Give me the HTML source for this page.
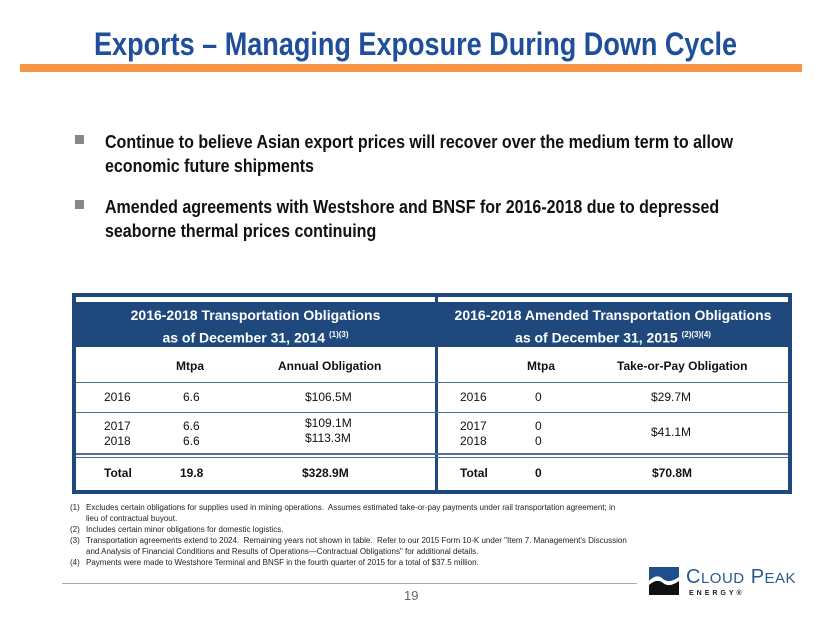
<!DOCTYPE html>
<html><head><meta charset="utf-8"><style>
body{margin:0;width:830px;height:623px;background:#fff;position:relative;overflow:hidden;font-family:"Liberation Sans",sans-serif}
.a{position:absolute;white-space:nowrap}
.sx{transform-origin:0 0}
.t{position:absolute;font-size:12px;color:#111;white-space:nowrap}
.hd{position:absolute;color:#fff;font-weight:bold;font-size:14px;text-align:center;line-height:19px;white-space:nowrap}
.fn{position:absolute;font-size:8px;color:#222;white-space:nowrap;left:70px}
.fn span{position:absolute;left:16px}
</style></head><body>
<div class="a sx" style="left:94px;top:26px;font-size:32px;font-weight:bold;color:#1f4e9a;transform:scaleX(0.845)">Exports – Managing Exposure During Down Cycle</div>
<div class="a" style="left:20px;top:64px;width:782px;height:8px;background:#f79646"></div>

<div class="a" style="left:75px;top:135px;width:9px;height:9px;background:#8c8580"></div>
<div class="a sx" style="left:105px;top:130px;font-size:18.5px;font-weight:bold;color:#111;line-height:24px;transform:scaleX(0.865)">Continue to believe Asian export prices will recover over the medium term to allow<br>economic future shipments</div>
<div class="a" style="left:75px;top:200px;width:9px;height:9px;background:#8c8580"></div>
<div class="a sx" style="left:105px;top:195px;font-size:18.5px;font-weight:bold;color:#111;line-height:24px;transform:scaleX(0.865)">Amended agreements with Westshore and BNSF for 2016-2018 due to depressed<br>seaborne thermal prices continuing</div>

<div>
<div class="a" style="left:72px;top:293px;width:712px;height:193px;border:4px solid #1f497d;background:#fff"></div>
<div class="a" style="left:76px;top:302px;width:712px;height:45px;background:#1f497d"></div>
<div class="a" style="left:435px;top:297px;width:3px;height:193px;background:#1f497d"></div>
<div class="a" style="left:76px;top:382px;width:712px;height:1px;background:#4f6f9f"></div>
<div class="a" style="left:76px;top:412px;width:712px;height:1px;background:#4f6f9f"></div>
<div class="a" style="left:76px;top:453px;width:712px;height:2px;background:#4f6f9f"></div>
<div class="a" style="left:76px;top:457px;width:712px;height:1px;background:#4f6f9f"></div>

<div class="hd" style="left:76px;top:306px;width:359px;">2016-2018 Transportation Obligations<br>as of December 31, 2014 <sup style="font-size:8px">(1)(3)</sup></div>
<div class="hd" style="left:438px;top:306px;width:350px;">2016-2018 Amended Transportation Obligations<br>as of December 31, 2015 <sup style="font-size:8px">(2)(3)(4)</sup></div>

<div class="t" style="left:176px;top:359px;font-weight:bold">Mtpa</div>
<div class="t" style="left:278px;top:359px;font-weight:bold">Annual Obligation</div>
<div class="t" style="left:527px;top:359px;font-weight:bold">Mtpa</div>
<div class="t" style="left:617px;top:359px;font-weight:bold">Take-or-Pay Obligation</div>

<div class="t" style="left:104px;top:390px">2016</div>
<div class="t" style="left:183px;top:390px">6.6</div>
<div class="t" style="left:305px;top:390px">$106.5M</div>
<div class="t" style="left:460px;top:390px">2016</div>
<div class="t" style="left:535px;top:390px">0</div>
<div class="t" style="left:651px;top:390px">$29.7M</div>

<div class="t" style="left:104px;top:419px">2017</div>
<div class="t" style="left:183px;top:419px">6.6</div>
<div class="t" style="left:305px;top:416px">$109.1M</div>
<div class="t" style="left:104px;top:434px">2018</div>
<div class="t" style="left:183px;top:434px">6.6</div>
<div class="t" style="left:305px;top:431px">$113.3M</div>
<div class="t" style="left:460px;top:419px">2017</div>
<div class="t" style="left:535px;top:419px">0</div>
<div class="t" style="left:460px;top:434px">2018</div>
<div class="t" style="left:535px;top:434px">0</div>
<div class="t" style="left:651px;top:425px">$41.1M</div>

<div class="t" style="left:104px;top:466px;font-weight:bold">Total</div>
<div class="t" style="left:180px;top:466px;font-weight:bold">19.8</div>
<div class="t" style="left:302px;top:466px;font-weight:bold">$328.9M</div>
<div class="t" style="left:460px;top:466px;font-weight:bold">Total</div>
<div class="t" style="left:535px;top:466px;font-weight:bold">0</div>
<div class="t" style="left:652px;top:466px;font-weight:bold">$70.8M</div>
</div>

<div>
<div class="fn" style="top:503px">(1)<span>Excludes certain obligations for supplies used in mining operations.&nbsp; Assumes estimated take-or-pay payments under rail transportation agreement; in</span></div>
<div class="fn" style="top:514px"><span>lieu of contractual buyout.</span></div>
<div class="fn" style="top:525px">(2)<span>Includes certain minor obligations for domestic logistics.</span></div>
<div class="fn" style="top:536px">(3)<span>Transportation agreements extend to 2024.&nbsp; Remaining years not shown in table.&nbsp; Refer to our 2015 Form 10-K under "Item 7. Management's Discussion</span></div>
<div class="fn" style="top:547px"><span>and Analysis of Financial Conditions and Results of Operations—Contractual Obligations" for additional details.</span></div>
<div class="fn" style="top:558px">(4)<span>Payments were made to Westshore Terminal and BNSF in the fourth quarter of 2015 for a total of $37.5 million.</span></div>
</div>

<div class="a" style="left:62px;top:583px;width:575px;height:1px;background:#aaa"></div>
<div class="a" style="left:404px;top:588px;font-size:13px;color:#666">19</div>

<div>
<svg class="a" style="left:649px;top:567px" width="30" height="28" viewBox="0 0 30 28">
<rect width="30" height="28" fill="#1f4e8a"/>
<path d="M0 14 Q8 6 14 12 Q20 17 30 10 L30 28 L0 28Z" fill="#fff"/>
<path d="M0 18 Q8 11 14 16 Q20 21 30 14 L30 28 L0 28Z" fill="#111"/>
</svg>
<div class="a" style="left:686px;top:566px;font-size:20px;color:#2a5a8c;letter-spacing:0.5px">C<span style="font-size:15px">LOUD</span> P<span style="font-size:15px">EAK</span></div>
<div class="a" style="left:689px;top:590px;font-size:7px;font-weight:bold;color:#222;letter-spacing:3px">ENERGY®</div>
</div>
</body></html>
